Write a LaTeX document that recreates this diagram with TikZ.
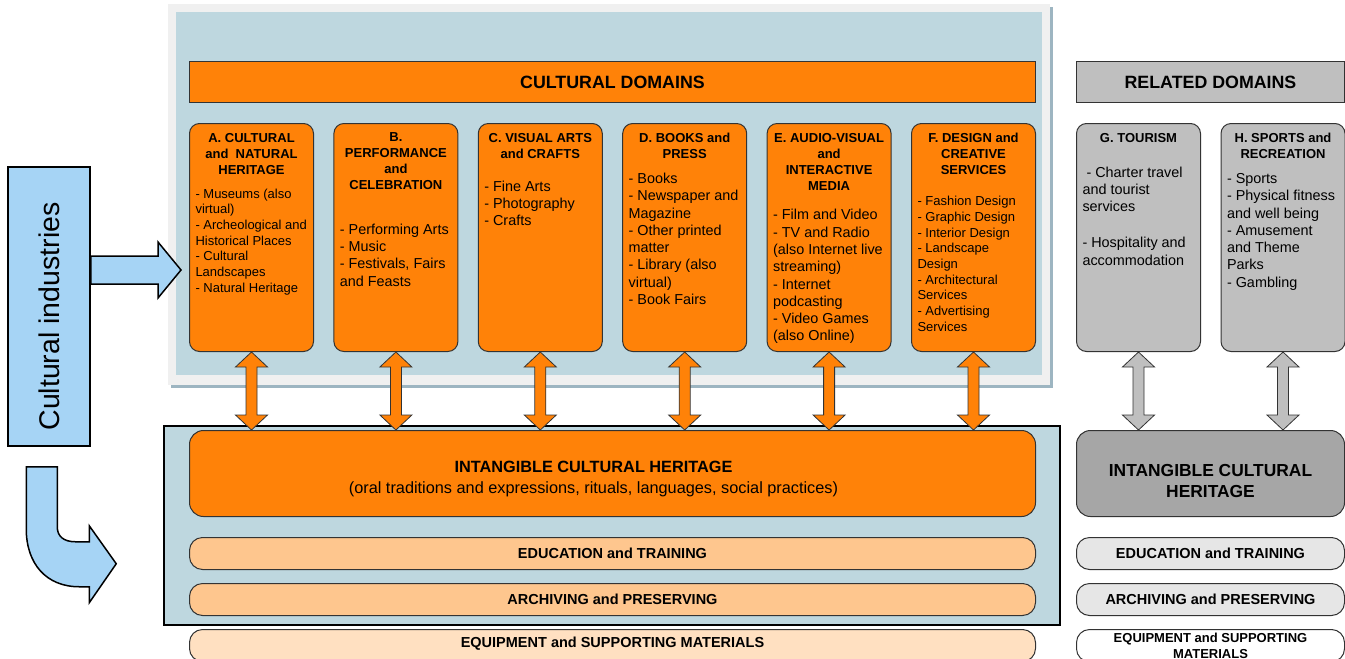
\documentclass[tikz,border=0pt]{standalone}
\usepackage{fontspec}
\setmainfont{Liberation Sans}
\usetikzlibrary{calc}
\definecolor{DomOrange}{RGB}{255,130,8}
\definecolor{BarOrange}{RGB}{254,198,142}
\definecolor{EquipPeach}{RGB}{255,224,193}
\definecolor{PanelBlue}{RGB}{190,215,223}
\definecolor{PanelShadow}{RGB}{157,181,193}
\definecolor{FrameGray}{RGB}{240,240,240}
\definecolor{IndBlue}{RGB}{166,212,245}
\definecolor{RelGray}{RGB}{191,191,191}
\definecolor{RelDark}{RGB}{166,166,166}
\definecolor{RelLight}{RGB}{230,230,230}
\definecolor{EdgeClr}{RGB}{51,51,51}

\newcommand{\domtext}[3]{\parbox[t][209pt][t]{112pt}{\centering\bfseries\fontsize{13}{16}\selectfont #1\par\vspace{#2}\raggedright\mdseries #3}}
\newcommand{\bigbody}{\fontsize{14.4}{17.3}\selectfont}
\newcommand{\smallbody}{\fontsize{13}{15.7}\selectfont}
\newcommand{\lowered}[2]{\raisebox{-#1}[\height][\depth]{#2}}

\begin{document}
\begin{tikzpicture}[x=1pt,y=-1pt,
  bar/.style={draw=EdgeClr,line width=1pt,anchor=north west,minimum width=846pt,minimum height=41pt,font=\bfseries\fontsize{17.8}{20}\selectfont},
  dombox/.style={draw=EdgeClr,line width=1pt,fill=DomOrange,rounded corners=10pt,anchor=north west,inner xsep=6pt,inner ysep=9.4pt,minimum width=124pt,minimum height=228pt},
  layer/.style={draw=EdgeClr,line width=1pt,rounded corners=13pt,anchor=north west,minimum width=846pt,minimum height=32pt,font=\bfseries\fontsize{14.5}{17}\selectfont},
  bigbox/.style={draw=EdgeClr,line width=1pt,rounded corners=14pt,anchor=north west,minimum width=846pt,minimum height=86pt},
  dblarrow/.style={draw=EdgeClr,line width=0.8pt},
  blockarrow/.style={draw=black,line width=1.5pt,fill=IndBlue,line join=miter}]
\useasboundingbox (0,0) rectangle (1345,659);
\clip (0,0) rectangle (1345,659);

\fill[PanelShadow] (171,7) rectangle (1053,388);
\fill[FrameGray] (168,4) rectangle (1050,385);
\fill[PanelBlue] (176,12) rectangle (1042,375);
\node[draw=black,line width=1.6pt,fill=PanelBlue,anchor=north west,minimum width=896pt,minimum height=199pt] (lowpanel) at (163,425) {};

\node[bar,fill=DomOrange] (cd) at (189,61) {CULTURAL DOMAINS};
\node[bar,fill=RelGray,minimum width=268pt] (rd) at (1076,61) {RELATED DOMAINS};

\node[dombox] (A) at (189,123) {\domtext{A. CULTURAL\\and\ \ NATURAL\\HERITAGE}{8.3pt}{\smallbody - Museums (also\\virtual)\\- Archeological and\\Historical Places\\- Cultural\\Landscapes\\- Natural Heritage}};
\node[dombox] (B) at (333.4,123) {\domtext{B.\\PERFORMANCE\\and\\CELEBRATION}{27pt}{\bigbody - Performing Arts\\- Music\\- Festivals, Fairs\\and Feasts}};
\node[dombox] (C) at (477.8,123) {\domtext{C. VISUAL ARTS\\and CRAFTS}{15.7pt}{\bigbody - Fine Arts\\- Photography\\- Crafts}};
\node[dombox] (D) at (622.2,123) {\domtext{D. BOOKS and\\PRESS}{7.7pt}{\bigbody - Books\\- Newspaper and\\Magazine\\- Other printed\\matter\\- Library (also\\virtual)\\- Book Fairs}};
\node[dombox] (E) at (766.6,123) {\domtext{E. AUDIO-VISUAL\\and\\INTERACTIVE\\MEDIA}{12.5pt}{\bigbody - Film and Video\\- TV and Radio\\(also Internet live\\streaming)\\- Internet\\podcasting\\- Video Games\\(also Online)}};
\node[dombox] (F) at (911,123) {\domtext{F. DESIGN and\\CREATIVE\\SERVICES}{15.5pt}{\smallbody - Fashion Design\\- Graphic Design\\- Interior Design\\- Landscape\\Design\\- Architectural\\Services\\- Advertising\\Services}};
\node[dombox,fill=RelGray] (G) at (1076,123) {\domtext{G. TOURISM}{18pt}{\bigbody\ - Charter travel\\and tourist\\services\\[18.7pt]- Hospitality and\\accommodation}};
\node[dombox,fill=RelGray] (H) at (1220.5,123) {\domtext{H. SPORTS and\\RECREATION}{7.7pt}{\bigbody - Sports\\- Physical fitness\\and well being\\- Amusement\\and Theme\\Parks\\- Gambling}};

\node[bigbox,fill=DomOrange,font=\fontsize{16.3}{21.5}\selectfont] (ich) at (189,430) {\lowered{5pt}{\begin{tabular}{@{}c@{}}\textbf{INTANGIBLE CULTURAL HERITAGE}\\(oral traditions and expressions, rituals, languages, social practices)\end{tabular}\hspace*{38pt}}};
\node[bigbox,fill=RelDark,minimum width=268pt,font=\bfseries\fontsize{17.4}{21}\selectfont] (ichr) at (1076,430) {\lowered{9pt}{\begin{tabular}{@{}c@{}}INTANGIBLE CULTURAL\\HERITAGE\end{tabular}}};

\node[layer,fill=BarOrange] (edu) at (189,537) {EDUCATION and TRAINING};
\node[layer,fill=BarOrange] (arc) at (189,583) {ARCHIVING and PRESERVING};
\node[layer,fill=EquipPeach] (eqp) at (189,629) {\lowered{-2pt}{EQUIPMENT and SUPPORTING MATERIALS}};
\node[layer,fill=RelLight,minimum width=268pt] (edur) at (1076,537) {EDUCATION and TRAINING};
\node[layer,fill=RelLight,minimum width=268pt] (arcr) at (1076,583) {ARCHIVING and PRESERVING};
\node[layer,fill=white,minimum width=268pt,align=center,font=\bfseries\fontsize{13}{16}\selectfont] (eqpr) at (1076,629) {EQUIPMENT and SUPPORTING\\MATERIALS};

\foreach \c in {A,B,C,D,E,F}
  \draw[dblarrow,fill=DomOrange] (\c.south) -- ++(16,15) -- ++(-10.5,0) -- ($(\c.south |- ich.north)+(5.5,-15)$) -- ++(10.5,0) -- (\c.south |- ich.north) -- ++(-16,-15) -- ++(10.5,0) -- ($(\c.south)+(-5.5,15)$) -- ++(-10.5,0) -- cycle;
\foreach \c in {G,H}
  \draw[dblarrow,fill=RelGray] (\c.south) -- ++(16,15) -- ++(-10.5,0) -- ($(\c.south |- ichr.north)+(5.5,-15)$) -- ++(10.5,0) -- (\c.south |- ichr.north) -- ++(-16,-15) -- ++(10.5,0) -- ($(\c.south)+(-5.5,15)$) -- ++(-10.5,0) -- cycle;

\node[draw=black,line width=1.5pt,fill=IndBlue,minimum width=82pt,minimum height=279pt,inner sep=0pt,font=\fontsize{28.5}{30}\selectfont] (ci) at (49,306.5) {\rotatebox{90}{Cultural industries\hspace{20pt}}\hspace{13pt}};

\draw[blockarrow] (ci.east |- 0,256) -- ($(A.west |- 0,256)+(-31,0)$) -- ++(0,-14) -- ($(A.west |- 0,270)+(-8,0)$) -- ($(A.west |- 0,298)+(-31,0)$) -- ++(0,-14) -- (ci.east |- 0,284) -- cycle;
\begin{scope}[shift={(ci.south west)}]
\draw[blockarrow] (19,20) -- (50,20) -- (50,80) .. controls (50,90) and (57,95) .. (68,95) -- (82,95) -- (82,79) -- (109,117) -- (82,156) -- (82,140) -- (72,140) .. controls (39,140) and (19,117) .. (19,82) -- cycle;
\end{scope}
\end{tikzpicture}
\end{document}
